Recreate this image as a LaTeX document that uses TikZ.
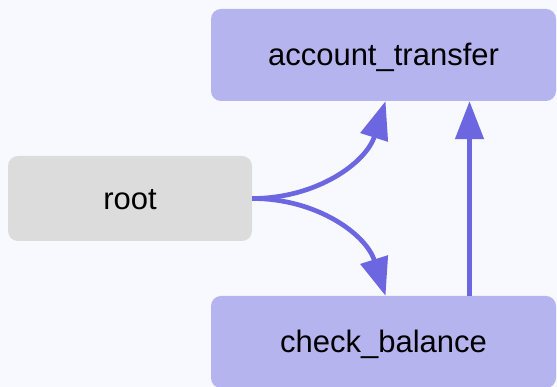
\documentclass[tikz,border=0pt]{standalone}
\usepackage{fontspec}
\setmainfont{Liberation Sans}
\usetikzlibrary{arrows.meta}
\definecolor{pagebg}{HTML}{F8F9FE}
\definecolor{taskfill}{HTML}{B6B4EE}
\definecolor{rootfill}{HTML}{DCDCDC}
\definecolor{edgecol}{HTML}{6C67E0}
\tikzset{
  box/.style={rounded corners=10pt, inner sep=0pt, minimum width=345pt, minimum height=92pt,
    text height=22pt, text depth=0.6pt, font=\fontsize{31}{36}\selectfont, fill=taskfill},
  rootbox/.style={box, minimum width=244pt, minimum height=85pt, fill=rootfill},
  flow/.style={draw=edgecol, line width=4.7pt, -{Triangle[length=38pt,width=28pt]}},
}
\begin{document}
\begin{tikzpicture}[x=1pt,y=1pt]
  \useasboundingbox[fill=pagebg] (0,0) rectangle (557,387);
  \node[box] (transfer) at (383.5,332) {account\_transfer};
  \node[rootbox] (root) at (130,188.5) {root};
  \node[box] (balance) at (383.5,45) {check\_balance};
  \draw[flow] (root.east) to[out=0,in=252.5] ([xshift=2pt]transfer.south);
  \draw[flow] (root.east) to[out=0,in=107.5] ([xshift=2pt]balance.north);
  \draw[flow] ([xshift=86pt]balance.north) -- ([xshift=86pt]transfer.south);
\end{tikzpicture}
\end{document}
